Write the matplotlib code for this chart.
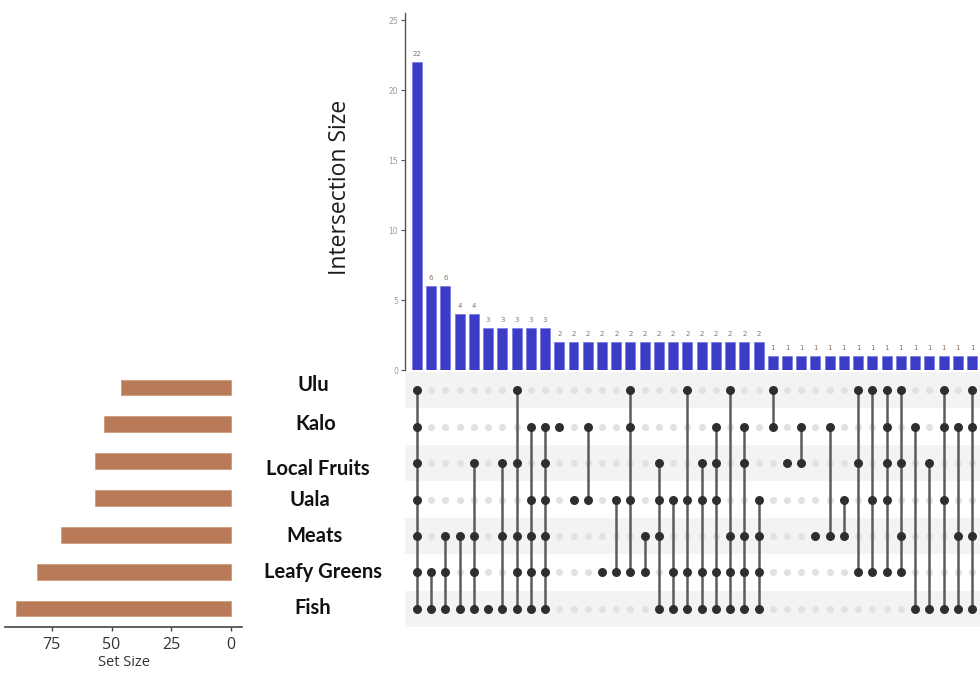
import matplotlib
matplotlib.use("Agg")
import matplotlib.pyplot as plt
import numpy as np

# sets, top row first
set_names = ["Ulu", "Kalo", "Local Fruits", "Uala", "Meats", "Leafy Greens", "Fish"]
set_sizes = [46, 53, 57, 57, 71, 81, 90]

# intersection sizes, in the order drawn
inter_sizes = [22, 6, 6, 4, 4, 3, 3, 3, 3, 3,
               2, 2, 2, 2, 2, 2, 2, 2, 2, 2, 2, 2, 2, 2, 2,
               1, 1, 1, 1, 1, 1, 1, 1, 1, 1, 1, 1, 1, 1, 1]

# sets taking part in each intersection
inter_members = [
    ["Ulu", "Kalo", "Local Fruits", "Uala", "Meats", "Leafy Greens", "Fish"],
    ["Leafy Greens", "Fish"],
    ["Meats", "Leafy Greens", "Fish"],
    ["Meats", "Fish"],
    ["Local Fruits", "Meats", "Leafy Greens", "Fish"],
    ["Fish"],
    ["Local Fruits", "Meats", "Fish"],
    ["Ulu", "Local Fruits", "Meats", "Leafy Greens", "Fish"],
    ["Kalo", "Uala", "Meats", "Leafy Greens", "Fish"],
    ["Kalo", "Local Fruits", "Uala", "Meats", "Leafy Greens", "Fish"],
    ["Kalo"],
    ["Uala"],
    ["Kalo", "Uala"],
    ["Leafy Greens"],
    ["Uala", "Leafy Greens"],
    ["Ulu", "Kalo", "Uala", "Leafy Greens"],
    ["Meats", "Leafy Greens"],
    ["Local Fruits", "Uala", "Meats", "Fish"],
    ["Uala", "Leafy Greens", "Fish"],
    ["Ulu", "Uala", "Leafy Greens", "Fish"],
    ["Local Fruits", "Uala", "Leafy Greens", "Fish"],
    ["Kalo", "Local Fruits", "Uala", "Leafy Greens", "Fish"],
    ["Ulu", "Meats", "Leafy Greens", "Fish"],
    ["Kalo", "Local Fruits", "Meats", "Leafy Greens", "Fish"],
    ["Uala", "Meats", "Leafy Greens", "Fish"],
    ["Ulu", "Kalo"],
    ["Local Fruits"],
    ["Kalo", "Local Fruits"],
    ["Meats"],
    ["Kalo", "Meats"],
    ["Uala", "Meats"],
    ["Ulu", "Local Fruits", "Leafy Greens"],
    ["Ulu", "Uala", "Leafy Greens"],
    ["Ulu", "Kalo", "Local Fruits", "Uala", "Leafy Greens"],
    ["Ulu", "Local Fruits", "Meats", "Leafy Greens"],
    ["Kalo", "Fish"],
    ["Local Fruits", "Fish"],
    ["Ulu", "Kalo", "Uala", "Fish"],
    ["Kalo", "Meats", "Fish"],
    ["Ulu", "Kalo", "Meats", "Fish"],
]

size_ticks = [75, 50, 25, 0]
inter_ticks = [0, 5, 10, 15, 20, 25]

BAR_BLUE = "#3b3dc8"
SET_BROWN = "#b87a57"
DOT_ON = "#2e2e2e"
DOT_OFF = "#e2e2e2"
STRIPE = "#f3f3f3"

W, H = 980, 675
fig = plt.figure(figsize=(W / 100, H / 100), dpi=100)


def px_axes(left, top, right, bottom):
    return fig.add_axes([left / W, 1 - bottom / H, (right - left) / W, (bottom - top) / H])


n_cols = len(inter_sizes)
n_rows = len(set_names)
xs = np.arange(n_cols)
x_lim = (-0.84, 39.56)

# ---- intersection size bars ----
ax_bar = px_axes(405, 13, 980, 370)
ax_bar.bar(xs, inter_sizes, width=0.7, color=BAR_BLUE, edgecolor="#6c6fe0", linewidth=0.4)
for x, v in zip(xs, inter_sizes):
    ax_bar.text(x, v + 0.35, str(v), ha="center", va="bottom", fontsize=5, color="#8a7560")
ax_bar.set_xlim(*x_lim)
ax_bar.set_ylim(0, 25.5)
ax_bar.set_yticks(inter_ticks)
ax_bar.tick_params(axis="y", labelsize=5.5, labelcolor="#9a9a9a", color="#555555",
                   length=3, width=0.8, pad=2)
ax_bar.set_xticks([])
for side in ["top", "right", "bottom"]:
    ax_bar.spines[side].set_visible(False)
ax_bar.spines["left"].set_color("#555555")
ax_bar.spines["left"].set_linewidth(1.0)
fig.text(340 / W, 1 - 187 / H, "Intersection Size", rotation=90, ha="center", va="center",
         fontsize=16.5, color="#1c1c1c", family=["Open Sans", "DejaVu Sans"])

# ---- membership matrix ----
ax_mat = px_axes(405, 372, 980, 627)
ax_mat.set_xlim(*x_lim)
ax_mat.set_ylim(n_rows - 0.5, -0.5)
for r in range(0, n_rows, 2):
    ax_mat.axhspan(r - 0.5, r + 0.5, color=STRIPE, zorder=0, lw=0)
gx, gy = np.meshgrid(xs, np.arange(n_rows))
ax_mat.scatter(gx.ravel(), gy.ravel(), s=26, color=DOT_OFF, zorder=1, lw=0)
for x, members in zip(xs, inter_members):
    rows = sorted(set_names.index(m) for m in members)
    if len(rows) > 1:
        ax_mat.plot([x, x], [rows[0], rows[-1]], color="#5c5c5c", lw=1.8, zorder=2,
                    solid_capstyle="butt")
    ax_mat.scatter([x] * len(rows), rows, s=42, color=DOT_ON, zorder=3, lw=0)
ax_mat.axis("off")

# ---- set size bars ----
ax_set = px_axes(5, 369, 242, 627)
ax_set.barh(np.arange(n_rows), set_sizes, height=0.43, color=SET_BROWN,
            edgecolor="#c99477", linewidth=0.5)
ax_set.set_xlim(94.6, -4.6)
ax_set.set_ylim(n_rows - 0.5, -0.5)
ax_set.set_yticks([])
ax_set.set_xticks(size_ticks)
ax_set.tick_params(axis="x", labelsize=11.5, labelcolor="#333333", color="#444444",
                   length=3, width=1.0, pad=4)
for lab in ax_set.get_xticklabels():
    lab.set_family(["Open Sans", "DejaVu Sans"])
for side in ["top", "right", "left"]:
    ax_set.spines[side].set_visible(False)
ax_set.spines["bottom"].set_color("#444444")
ax_set.spines["bottom"].set_linewidth(1.2)
ax_set.set_xlabel("Set Size", fontsize=10.5, color="#333333", labelpad=2,
                  family=["Open Sans", "DejaVu Sans"])

# set names between the two panels
name_pos = [(313, 385), (316, 424), (318, 469), (310, 500), (314, 536), (323, 572), (313, 608)]
for name, (px, py) in zip(set_names, name_pos):
    fig.text(px / W, 1 - py / H, name, ha="center", va="center", fontsize=14.5,
             fontweight="bold", color="#111111", family=["Lato", "DejaVu Sans"])

fig.savefig("out.png", dpi=100, facecolor="white")
